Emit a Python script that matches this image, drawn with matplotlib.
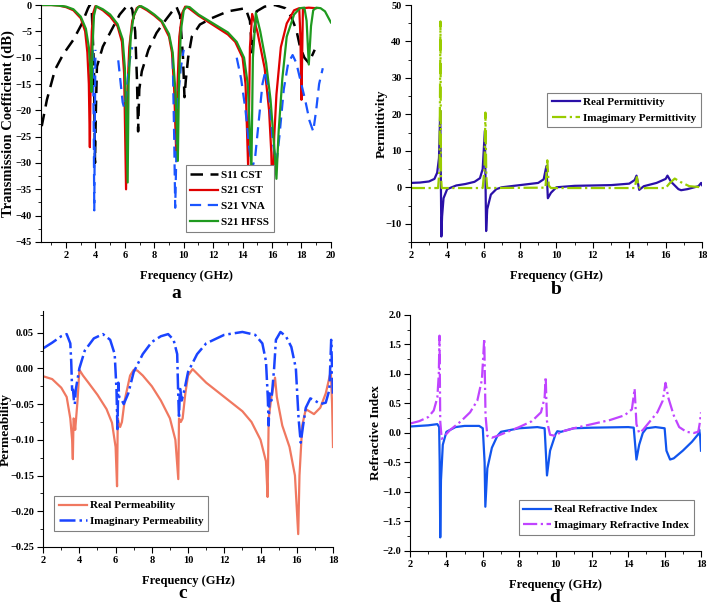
import numpy as np
import matplotlib.pyplot as plt
from matplotlib.ticker import MultipleLocator

plt.rcParams['font.family'] = ['Liberation Serif', 'DejaVu Serif']
plt.rcParams['font.weight'] = 'bold'
plt.rcParams['axes.labelweight'] = 'bold'

nan = np.nan

# ---- panel a: S-parameters ----
s11_f = [0.35, 0.7, 1.25, 1.8, 2.5, 3.05, 3.5, 3.62, 3.75, 3.9, 3.97, 4.03, 4.1, 4.5, 5.1, 5.65, 6.1, 6.3, 6.5, 6.7, 6.82, 6.9, 6.98, 7.15, 7.6, 8.15, 8.7, 9.3, 9.5, 9.75, 9.95, 10.05, 10.15, 10.3, 10.55, 11.1, 11.9, 13.0, 14.2, 14.5, 14.65, 14.8, 14.95, 15.5, 16.2, 16.9, 17.3, 17.65, 17.9, 18.2, 18.5, 18.9]
s11_db = [-23, -18, -12.3, -9.4, -6.6, -3.7, -0.6, 0, -1, -12, -30, -20, -11.7, -7.9, -4.7, -1.8, -0.3, 0, -0.8, -5, -14, -24, -16, -12.6, -8.5, -5.3, -3.1, -0.9, -0.3, -2, -10, -17.5, -14, -10, -6, -3.7, -2.5, -1.2, -0.6, -3, -9, -5, -1.2, -0.3, 0, -0.6, -2.2, -4.7, -7.9, -10, -11, -8.5]

cst_f = [0.3, 1.0, 1.5, 2.0, 2.5, 3.0, 3.3, 3.45, 3.55, 3.62, 3.68, 3.75, 3.85, 4.0, 4.5, 5.0, 5.5, 5.8, 5.95, 6.08, 6.15, 6.3, 6.5, 6.8, 7.0, 7.5, 8.0, 8.5, 9.0, 9.2, 9.35, 9.5, 9.58, 9.7, 9.9, 10.1, 10.3, 11.0, 12.0, 13.0, 13.5, 14.0, 14.2, 14.38, 14.5, 14.65, 15.0, 15.5, 15.8, 15.95, 16.05, 16.15, 16.3, 16.6, 17.0, 17.5, 17.85, 17.93, 18.0, 18.1, 18.5, 19.0]
cst_db = [0, 0, -0.1, -0.4, -1.0, -2.5, -5, -9, -15, -27, -12, -5, -1.5, -0.2, -1, -2.2, -4, -7, -13, -35, -18, -8, -3, -0.6, -0.2, -1, -2, -3.2, -6, -9, -16, -29, -15, -6, -1.5, -0.3, -0.5, -2, -3.8, -5.6, -7, -10, -15, -31, -8, -1.7, -5, -12, -20, -28, -38.6, -25, -17, -8, -3.5, -1, -0.6, -6, -18, -0.6, -0.5, -0.6]

hfss_f = [0.3, 1.0, 1.5, 2.0, 2.5, 3.0, 3.35, 3.55, 3.65, 3.74, 3.8, 3.9, 4.05, 4.5, 5.0, 5.5, 5.85, 6.0, 6.19, 6.25, 6.4, 6.6, 6.9, 7.1, 7.5, 8.0, 8.5, 9.0, 9.25, 9.45, 9.6, 9.68, 9.8, 10.0, 10.2, 10.4, 11.0, 12.0, 13.0, 13.6, 14.1, 14.35, 14.6, 14.7, 14.9, 15.2, 15.6, 15.9, 16.15, 16.3, 16.45, 16.7, 17.0, 17.5, 17.9, 18.2, 18.35, 18.5, 18.65, 18.8, 19.0, 19.3, 19.6, 20.0]
hfss_db = [0, 0, -0.1, -0.3, -0.8, -2.2, -4.5, -8, -12, -16.5, -8, -2, -0.2, -0.8, -1.8, -3.6, -6.5, -12, -33.7, -15, -6, -2, -0.4, -0.2, -0.8, -1.8, -3, -5.5, -9, -17, -29.6, -14, -5, -1, -0.3, -0.4, -1.8, -3.5, -5.2, -7, -10, -15, -31, -10, -1.5, -5, -11, -18, -27, -33, -24, -14, -6, -1.8, -0.6, -0.5, -3, -11.3, -4, -1, -0.5, -0.6, -1.2, -3.3]

vna_f = [3.82, 3.88, 3.92, 3.96, 4.0, nan, 5.55, 5.7, 5.85, 5.95, 6.1, 6.3, 6.5, nan, 9.25, 9.35, 9.42, 9.5, 9.6, 9.8, 10.0, nan, 13.6, 13.9, 14.2, 14.45, 14.65, 14.85, 15.1, 15.35, 15.55, 15.8, 16.05, 16.3, 16.5, 16.8, 17.1, 17.4, 17.65, 17.95, 18.25, 18.55, 18.8, 19.0, 19.2, 19.45]
vna_db = [-8.5, -22, -39, -22, -8.5, nan, -10.5, -14.5, -18.5, -19.5, -17, -11, -8, nan, -10, -25, -38.5, -28, -18, -12, -8.5, nan, -10, -14, -20, -27, -31, -29, -22, -15, -12.5, -17, -26, -30, -25, -16, -11, -9.5, -11, -14.5, -18, -22, -24, -20, -15, -12]

# ---- panel b: permittivity ----
eps_re_f = [2.0, 2.5, 3.0, 3.3, 3.45, 3.55, 3.62, 3.68, 3.72, 3.8, 4.0, 4.5, 5.0, 5.5, 5.8, 5.95, 6.07, 6.14, 6.2, 6.4, 6.7, 7.0, 8.0, 9.0, 9.3, 9.45, 9.53, 9.7, 10.0, 11.0, 12.0, 13.0, 14.0, 14.3, 14.4, 14.55, 14.8, 15.5, 16.0, 16.1, 16.3, 16.7, 16.85, 17.2, 17.8, 17.95, 18.0]
eps_re = [1.2, 1.3, 1.6, 2.3, 4.0, 8.0, 21.0, -13.5, -8.0, -3.0, -0.5, 0.5, 0.9, 1.5, 2.5, 5.0, 15.5, -12.0, -6.0, -2.0, -0.5, 0.0, 0.6, 1.2, 2.2, 5.8, -3.0, -1.5, 0.0, 0.4, 0.5, 0.6, 1.0, 2.0, 3.2, -0.7, 0.3, 1.2, 2.3, 3.2, 1.5, -0.5, -0.8, -0.5, 0.3, 1.2, 0.6]

eps_im_f = [2.0, 3.5, 3.58, 3.63, 3.66, 3.7, 5.95, 6.05, 6.1, 6.15, 6.2, 9.4, 9.5, 9.58, 9.7, 14.3, 14.42, 14.5, 14.6, 15.0, 16.0, 16.2, 16.5, 16.8, 17.3, 18.0]
eps_im = [-0.2, -0.2, 5.0, 45.5, 3.0, -0.2, -0.2, 5.0, 20.5, 3.0, -0.2, -0.1, 7.4, 0.5, -0.2, -0.2, 2.8, 0.5, -0.3, -0.2, -0.2, 1.0, 2.4, 1.5, 0.3, 0.0]

# ---- panel c: permeability ----
mu_re_f = [2.0, 2.5, 3.0, 3.3, 3.5, 3.6, 3.64, 3.68, 3.72, 3.77, 3.82, 3.9, 4.0, 4.2, 4.5, 5.0, 5.5, 5.8, 6.0, 6.08, 6.12, 6.2, 6.25, 6.35, 6.5, 6.8, 7.0, 7.2, 7.5, 8.0, 8.5, 9.0, 9.3, 9.46, 9.5, 9.6, 9.7, 9.85, 10.0, 10.25, 11.0, 12.0, 13.0, 13.5, 14.0, 14.3, 14.39, 14.45, 14.6, 14.8, 14.9, 15.2, 15.6, 15.9, 16.08, 16.15, 16.3, 16.5, 16.95, 17.3, 17.6, 17.88, 17.95, 18.0]
mu_re = [-0.011, -0.015, -0.027, -0.04, -0.07, -0.1, -0.127, -0.07, -0.072, -0.086, -0.07, -0.045, -0.002, -0.01, -0.02, -0.037, -0.057, -0.076, -0.11, -0.165, -0.07, -0.08, -0.082, -0.075, -0.045, -0.01, -0.002, -0.003, -0.01, -0.025, -0.045, -0.07, -0.1, -0.155, -0.07, -0.075, -0.07, -0.035, -0.01, -0.001, -0.02, -0.04, -0.06, -0.075, -0.1, -0.13, -0.18, -0.07, -0.04, -0.013, -0.04, -0.08, -0.11, -0.15, -0.232, -0.15, -0.08, -0.057, -0.064, -0.055, -0.035, -0.004, -0.05, -0.11]

mu_im_f = [2.0, 2.5, 3.0, 3.3, 3.5, 3.55, 3.6, 3.65, 3.7, 3.75, 3.8, 4.0, 4.3, 4.8, 5.3, 5.7, 5.95, 6.05, 6.1, 6.15, 6.2, 6.35, 6.45, 6.7, 7.0, 7.5, 8.0, 8.5, 8.9, 9.2, 9.4, 9.45, 9.5, 9.55, 9.65, 9.8, 10.0, 10.5, 11.0, 12.0, 13.0, 13.7, 14.1, 14.3, 14.4, 14.45, 14.5, 14.6, 14.75, 14.85, 15.1, 15.4, 15.7, 15.95, 16.1, 16.22, 16.35, 16.5, 16.75, 17.0, 17.3, 17.6, 17.8, 17.9, 17.95, 18.0]
mu_im = [0.028, 0.036, 0.045, 0.048, 0.035, 0.01, -0.03, -0.03, -0.045, -0.05, -0.03, 0.0, 0.025, 0.042, 0.048, 0.04, 0.02, -0.03, -0.085, -0.02, -0.04, -0.045, -0.05, -0.035, -0.005, 0.02, 0.037, 0.045, 0.048, 0.04, 0.02, -0.03, -0.07, -0.025, -0.045, -0.03, -0.005, 0.02, 0.035, 0.047, 0.051, 0.047, 0.035, 0.01, -0.04, -0.08, -0.035, -0.045, 0.0, 0.04, 0.051, 0.045, 0.03, 0.0, -0.07, -0.104, -0.08, -0.055, -0.042, -0.045, -0.05, -0.048, -0.03, 0.04, 0.0, -0.04]

# ---- panel d: refractive index ----
n_re_f = [2.0, 3.0, 3.5, 3.6, 3.63, 3.66, 3.7, 3.8, 4.0, 4.5, 5.0, 5.8, 6.0, 6.1, 6.14, 6.25, 6.5, 6.8, 7.0, 8.0, 9.0, 9.4, 9.48, 9.53, 9.7, 10.0, 10.1, 10.3, 11.0, 12.0, 14.0, 14.3, 14.38, 14.45, 14.6, 14.8, 15.0, 15.5, 16.0, 16.1, 16.3, 16.5, 17.0, 17.5, 17.85, 17.9, 17.95, 18.0]
n_re = [0.11, 0.13, 0.15, 0.1, -0.5, -1.77, -0.8, -0.2, 0.02, 0.1, 0.12, 0.12, 0.08, -0.5, -1.25, -0.6, -0.25, -0.05, 0.02, 0.08, 0.1, 0.08, -0.4, -0.72, -0.3, -0.02, 0.03, 0.02, 0.08, 0.09, 0.1, 0.09, -0.2, -0.45, -0.2, 0.0, 0.08, 0.1, 0.08, -0.3, -0.45, -0.43, -0.3, -0.15, -0.02, 0.06, -0.05, -0.3]

n_im_f = [2.0, 2.5, 3.0, 3.3, 3.5, 3.58, 3.62, 3.66, 3.74, 3.9, 4.2, 4.8, 5.3, 5.7, 5.95, 6.08, 6.15, 6.25, 6.5, 6.8, 7.2, 8.0, 8.7, 9.2, 9.4, 9.46, 9.53, 9.7, 10.0, 10.3, 11.0, 12.0, 13.0, 13.8, 14.2, 14.35, 14.45, 14.6, 14.8, 15.2, 15.6, 15.9, 16.05, 16.2, 16.5, 16.8, 17.2, 17.6, 17.85, 17.95, 18.0]
n_im = [0.16, 0.2, 0.27, 0.38, 0.6, 1.0, 1.65, 0.2, -0.1, -0.05, 0.05, 0.2, 0.35, 0.55, 0.9, 1.6, 0.3, -0.05, -0.08, -0.05, 0.0, 0.1, 0.2, 0.35, 0.6, 0.95, 0.2, -0.03, -0.05, 0.02, 0.08, 0.15, 0.22, 0.3, 0.4, 0.75, 0.15, 0.0, 0.05, 0.2, 0.35, 0.55, 0.85, 0.6, 0.3, 0.1, 0.02, 0.0, 0.02, 0.2, 0.35]

fig = plt.figure(figsize=(7.07, 6.06), dpi=100)
ax_a = fig.add_axes([0.058, 0.6007, 0.410, 0.391])
ax_b = fig.add_axes([0.581, 0.6007, 0.412, 0.391])
ax_c = fig.add_axes([0.061, 0.0974, 0.410, 0.389])
ax_d = fig.add_axes([0.580, 0.0908, 0.4115, 0.3894])


def style(ax, xmaj, xmin, ymaj, ymin, ylabel, ylab_x, ylab_size=9.5):
	for s in ['top', 'right']:
		ax.spines[s].set_visible(False)
	ax.xaxis.set_major_locator(MultipleLocator(xmaj))
	ax.xaxis.set_minor_locator(MultipleLocator(xmin))
	ax.yaxis.set_major_locator(MultipleLocator(ymaj))
	ax.yaxis.set_minor_locator(MultipleLocator(ymin))
	ax.tick_params(which='major', direction='out', length=4, labelsize=7.5, pad=2.5)
	ax.tick_params(which='minor', direction='out', length=2)
	for lab in ax.get_xticklabels() + ax.get_yticklabels():
		lab.set_fontweight('bold')
	ax.set_xlabel('Frequency (GHz)', fontsize=9, fontweight='bold', labelpad=7)
	ax.set_ylabel(ylabel, fontsize=ylab_size, fontweight='bold')
	ax.yaxis.set_label_coords(ylab_x, 0.5)


def legend(ax, x0, y0):
	leg = ax.legend(loc='lower left', bbox_to_anchor=(x0, y0), fancybox=False, edgecolor='gray',
		prop={'weight': 'bold', 'size': 8}, handlelength=2.5, borderpad=0.4, labelspacing=0.55,
		handletextpad=0.3, framealpha=1)
	leg.get_frame().set_linewidth(0.8)


# a
ax_a.plot(s11_f, s11_db, color='black', ls=(0, (5, 3)), lw=1.8, label='S11 CST')
ax_a.plot(cst_f, cst_db, color='#e00000', lw=1.6, label='S21 CST')
ax_a.plot(vna_f, vna_db, color='#1a55ff', ls=(0, (5, 3)), lw=1.6, label='S21 VNA')
ax_a.plot(hfss_f, hfss_db, color='#1f9a1f', lw=1.6, label='S21 HFSS')
ax_a.set_xlim(0.3, 20)
ax_a.set_ylim(-45, 0)
style(ax_a, 2, 1, 5, 2.5, 'Transmission Coefficient (dB)', -0.09, 10.5)
legend(ax_a, 0.48, 0.02)

# b
ax_b.plot(eps_re_f, eps_re, color='#2a10a8', lw=1.6, label='Real Permittivity')
ax_b.plot(eps_im_f, eps_im, color='#99cc00', ls='-.', lw=1.6, label='Imagimary Permittivity')
ax_b.set_xlim(2, 18)
ax_b.set_ylim(-15, 50)
style(ax_b, 2, 1, 10, 5, 'Permittivity', -0.08)
legend(ax_b, 0.45, 0.46)

# c
ax_c.plot(mu_re_f, mu_re, color='#f07860', lw=1.6, label='Real Permeability')
ax_c.plot(mu_im_f, mu_im, color='#1a44ff', ls='-.', lw=1.8, label='Imaginary Permeability')
ax_c.set_xlim(2, 18)
ax_c.set_ylim(-0.25, 0.08)
style(ax_c, 2, 1, 0.05, 0.025, 'Permeability', -0.107)
legend(ax_c, 0.02, 0.045)

# d
ax_d.plot(n_re_f, n_re, color='#1155ee', lw=1.6, label='Real Refractive Index')
ax_d.plot(n_im_f, n_im, color='#c044ff', ls='-.', lw=1.6, label='Imagimary Refractive Index')
ax_d.set_xlim(2, 18)
ax_d.set_ylim(-2, 2)
style(ax_d, 2, 1, 0.5, 0.25, 'Refractive Index', -0.096)
legend(ax_d, 0.355, 0.045)

for x, y, t in [(0.250, 0.515, 'a'), (0.786, 0.522, 'b'), (0.259, 0.020, 'c'), (0.784, 0.014, 'd')]:
	fig.text(x, y, t, fontsize=14, fontweight='bold', ha='center', va='center')

fig.savefig('out.png', dpi=100)
